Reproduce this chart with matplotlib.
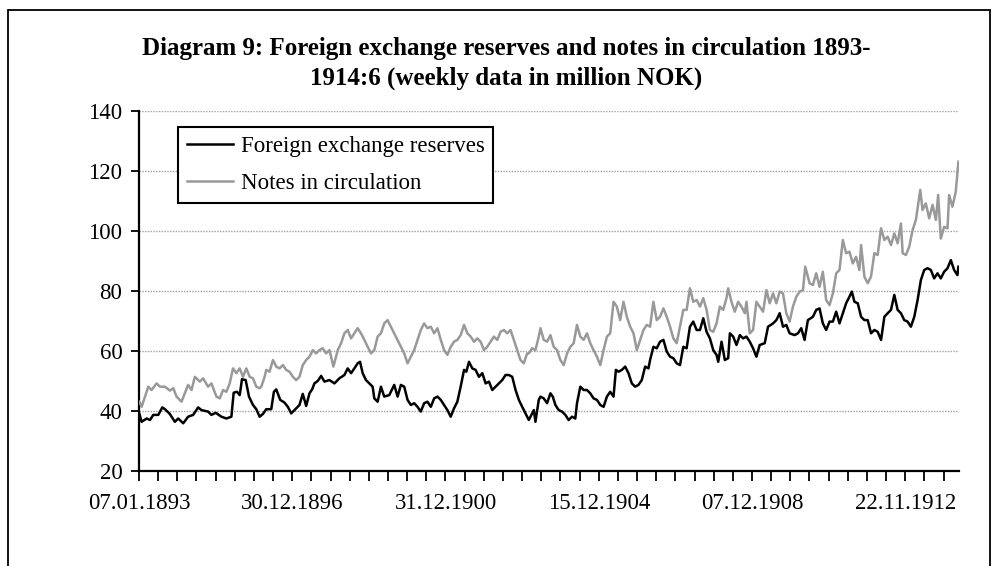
import matplotlib
matplotlib.use("Agg")
import matplotlib.pyplot as plt
from matplotlib.patches import Rectangle
from matplotlib.lines import Line2D

# ---- data (week index from 07.01.1893, million NOK) ----
reserves_week = [0, 3, 10, 14.4, 18.9, 25.7, 31.1, 34.7, 41.4, 48.2, 52.7, 59.5, 66.2, 73.0, 79.8,
                 84.3, 93.3, 97.8, 103.7, 111.3, 118.1, 124.9, 128.0, 132.5, 136.2, 139.3, 144.3,
                 148.8, 154.2, 158.7, 163.2, 167.7, 172.2, 179.0, 182.6, 185.8, 191.2, 197.0, 201.5,
                 206.1, 212.8, 217.3, 221.8, 226.4, 230.9, 234.5, 237.6, 242.1, 246.7, 251.2,
                 258.0, 264.8, 271.5, 278.3, 282.8, 287.3, 291.8, 296.3, 299.5, 303.1, 307.6, 312.1,
                 316.6, 318.9, 323.4, 327.9, 332.4, 339.2, 345.9, 350.5, 355.0, 359.5, 364.0, 368.5,
                 373.0, 377.5, 382.0, 386.5, 391.0, 395.6, 400.1, 404.6, 409.1, 413.6, 418.1, 422.6,
                 427.1, 431.6, 436.1, 440.7, 443.8, 447.4, 451.9, 456.4, 460.9, 465.5, 470.0, 474.5,
                 479.0, 483.5, 488.0, 492.5, 497.0, 501.5, 506.1, 510.6, 515.1, 519.6, 524.1, 528.6,
                 533.1, 535.4, 537.6, 542.1, 544.4, 548.9, 553.4, 557.9, 561.1, 564.7, 569.2, 573.7,
                 578.2, 582.7, 587.2, 591.7, 594.0, 598.5, 603.0, 607.5, 612.0, 616.5, 621.1, 625.6,
                 630.1, 634.6, 639.1, 643.6, 646.8, 650.4, 654.9, 659.4, 663.9, 668.4, 672.9, 677.4,
                 681.9, 686.5, 691.0, 693.2, 697.7, 702.2, 706.7, 711.3, 715.8, 720.3, 724.8, 729.3,
                 733.8, 738.3, 742.8, 747.3, 751.8, 756.4, 760.9, 765.4, 769.9, 774.4, 778.9, 783.4,
                 785.7, 790.2, 794.7, 799.2, 801.5, 806.0, 810.5, 815.0, 819.5, 824.0, 828.5, 833.0,
                 837.5, 842.0, 848.8, 853.3, 860.1, 864.6, 869.1, 873.6, 878.1, 882.6, 889.4, 893.9,
                 898.4, 902.9, 907.4, 914.2, 918.7, 923.2, 927.7, 932.2, 936.8, 941.3, 945.8, 950.3,
                 954.8, 959.3, 963.8, 967.0, 970.6, 975.1, 979.6, 984.1, 988.6, 993.1, 997.6, 1002.1,
                 1006.7, 1011.2, 1015.7, 1020.2, 1024.7, 1029.2, 1033.7, 1038.2, 1042.7, 1047.2,
                 1051.8, 1056.3, 1060.8, 1065.3, 1069.8, 1074.3, 1078.8, 1083.3, 1087.8, 1092.3,
                 1096.9, 1101.4, 1105.9, 1110.4, 1111.7]
reserves_value = [39.0, 36.3, 37.4, 36.9, 38.6, 38.6, 41.1, 40.5, 38.9, 36.3, 37.4, 35.8, 38.0, 38.6, 41.1,
                  40.2, 39.7, 38.6, 39.3, 38.0, 37.4, 38.0, 46.0, 46.3, 45.2, 50.5, 50.2,
                  44.7, 41.9, 40.5, 38.0, 38.9, 40.5, 40.5, 46.3, 47.1, 43.6, 42.7, 41.3,
                  39.1, 40.8, 41.9, 45.6, 41.6, 45.8, 47.1, 49.1, 49.9, 51.6, 49.7,
                  50.2, 49.1, 50.8, 51.9, 54.1, 52.5, 54.1, 55.8, 56.3, 52.5, 50.2, 49.1,
                  48.0, 44.1, 43.0, 48.0, 44.7, 45.2, 48.6, 44.7, 48.6, 48.0, 43.6, 41.9,
                  42.5, 41.3, 39.7, 42.5, 43.0, 41.3, 44.1, 44.7, 43.6, 41.9, 40.2, 38.0,
                  40.8, 43.0, 48.0, 53.6, 53.0, 56.3, 54.1, 53.6, 51.3, 52.5, 49.1, 49.7,
                  46.9, 48.0, 49.1, 50.2, 51.9, 51.9, 51.3, 46.9, 43.6, 41.3, 39.1, 36.9,
                  39.1, 40.2, 36.3, 43.6, 44.7, 44.1, 42.5, 45.8, 44.7, 41.9, 40.2, 39.7,
                  38.6, 36.9, 38.0, 37.4, 42.5, 48.0, 46.9, 46.9, 45.8, 44.1, 43.6, 41.9,
                  41.3, 44.7, 46.3, 44.7, 53.6, 53.0, 53.6, 54.7, 52.5, 49.1, 48.0, 48.6,
                  50.2, 54.7, 54.1, 56.9, 61.3, 60.8, 63.0, 63.6, 59.7, 58.0, 57.5, 55.8,
                  55.2, 61.3, 60.8, 68.0, 69.7, 66.9, 66.9, 70.8, 66.3, 64.1, 60.2, 58.6,
                  56.3, 63.0, 56.9, 57.5, 65.8, 64.7, 61.9, 65.2, 64.1, 64.7, 63.0, 60.8,
                  58.0, 61.9, 62.5, 68.0, 69.1, 70.2, 72.5, 68.0, 68.6, 65.8, 65.2, 65.8,
                  67.5, 63.6, 70.2, 71.3, 73.6, 74.1, 69.1, 66.9, 69.7, 69.7, 73.0, 69.1,
                  72.5, 75.8, 78.0, 79.7, 76.3, 75.8, 71.3, 70.2, 70.2, 65.8, 66.9, 66.3,
                  63.6, 71.3, 72.5, 73.6, 78.6, 73.6, 72.5, 70.2, 69.7, 68.0,
                  71.3, 76.9, 83.6, 86.9, 87.5, 86.9, 84.1, 85.8, 84.1, 86.3,
                  87.5, 90.2, 86.9, 85.2, 88.0]

notes_week = [0, 3.1, 7.6, 12.1, 16.6, 23.4, 27.9, 34.7, 41.4, 46.0, 50.5, 57.2, 61.7, 66.2, 70.8,
              75.3, 82.0, 86.5, 93.3, 97.8, 104.6, 109.1, 113.6, 118.1, 122.6, 127.1, 131.6, 136.2,
              140.7, 145.2, 149.7, 154.2, 158.7, 163.2, 165.5, 170.0, 172.2, 176.7, 181.3, 185.8,
              190.3, 194.8, 199.3, 203.8, 208.3, 212.8, 217.3, 221.8, 226.4, 230.9, 235.4, 239.9,
              244.4, 248.9, 253.4, 258.0, 263.4, 269.3, 273.8, 278.3, 282.8, 287.3, 291.8, 296.3,
              300.8, 305.4, 309.9, 314.4, 318.9, 323.4, 327.9, 332.4, 336.9, 341.4, 345.9, 350.5,
              355.0, 359.5, 364.0, 368.5, 373.0, 377.5, 382.0, 386.5, 391.0, 395.6, 400.1, 404.6,
              409.1, 413.6, 418.1, 422.6, 427.1, 431.6, 436.1, 440.7, 445.2, 449.7, 454.2, 458.7,
              463.2, 467.7, 472.2, 476.7, 481.2, 485.8, 490.3, 494.8, 499.3, 503.8, 508.3, 512.8,
              517.3, 521.8, 526.3, 528.6, 533.1, 537.6, 542.1, 544.4, 548.9, 553.4, 557.9, 562.4,
              566.9, 571.4, 576.0, 580.5, 585.0, 589.5, 594.0, 598.5, 603.0, 607.5, 612.0, 616.5,
              621.1, 625.6, 630.1, 634.6, 639.1, 643.6, 648.1, 652.6, 657.1, 661.6, 666.2, 670.7,
              675.2, 679.7, 684.2, 688.7, 693.2, 697.7, 702.2, 706.7, 711.3, 715.8, 720.3, 724.8,
              729.3, 733.8, 738.3, 742.8, 747.3, 751.8, 756.4, 760.9, 765.4, 769.9, 774.4, 778.9,
              783.4, 787.9, 792.4, 796.9, 799.2, 803.7, 808.2, 812.7, 817.2, 821.8, 824.0, 828.5,
              833.0, 837.5, 842.0, 846.6, 851.1, 855.6, 860.1, 864.6, 869.1, 873.6, 878.1, 882.6,
              887.1, 891.7, 896.2, 900.7, 903.8, 909.7, 914.2, 918.7, 923.2, 927.7, 932.2, 936.8,
              941.3, 945.8, 950.3, 954.8, 959.3, 963.8, 968.3, 972.8, 977.3, 979.6, 984.1, 988.6,
              993.1, 997.6, 1002.1, 1006.7, 1011.2, 1015.7, 1020.2, 1024.7, 1029.2, 1033.7, 1036.0,
              1040.5, 1045.0, 1049.5, 1054.0, 1059.9, 1063.0, 1067.5, 1072.0, 1076.6, 1081.1,
              1084.2, 1087.8, 1092.3, 1096.9, 1099.1, 1103.6, 1108.1, 1111.7]
notes_value = [43.0, 41.3, 44.7, 48.0, 46.9, 49.1, 48.0, 48.0, 46.7, 47.5, 44.7, 43.0, 45.8, 48.6, 46.9,
               51.3, 49.7, 50.8, 48.0, 49.1, 44.7, 44.1, 46.9, 46.3, 49.1, 54.1, 52.5, 54.1,
               51.3, 54.1, 51.3, 50.8, 48.0, 47.5, 48.0, 51.3, 53.6, 53.0, 56.9, 54.7,
               54.1, 55.2, 53.6, 53.0, 51.3, 50.2, 51.3, 55.2, 56.9, 58.0, 60.2, 59.1,
               60.2, 60.8, 59.1, 60.2, 54.7, 60.2, 62.5, 65.8, 66.9, 64.1, 65.8, 67.5,
               65.8, 63.6, 61.3, 59.1, 60.2, 64.7, 65.8, 69.1, 70.2, 68.0, 65.8, 63.6,
               61.3, 59.1, 55.8, 58.0, 60.2, 63.6, 66.9, 69.1, 67.5, 68.0, 65.8, 67.5,
               63.6, 60.2, 58.6, 61.3, 63.0, 63.6, 65.2, 68.6, 65.8, 64.7, 63.0, 64.1,
               63.0, 60.2, 61.3, 63.0, 64.7, 63.6, 66.3, 66.9, 65.8, 66.9, 63.6, 60.2,
               56.9, 55.8, 59.1, 59.1, 60.8, 60.2, 64.7, 67.5, 63.6, 63.0, 65.2, 61.3,
               60.2, 56.9, 55.2, 59.1, 61.3, 62.5, 68.6, 64.7, 63.6, 65.8, 62.5, 60.2,
               58.0, 55.2, 60.2, 64.7, 65.8, 76.3, 74.7, 70.2, 76.3, 71.3, 68.0, 65.8,
               60.2, 63.6, 66.9, 68.6, 68.0, 76.3, 70.2, 71.3, 74.1, 71.3, 68.0, 64.1,
               62.5, 68.0, 73.6, 73.6, 80.8, 76.3, 76.9, 74.7, 77.5, 73.6, 66.9, 66.3,
               69.1, 74.7, 73.6, 77.5, 80.8, 76.3, 73.0, 76.3, 74.7, 72.5, 76.3, 65.8,
               66.9, 76.3, 74.7, 73.0, 80.2, 75.8, 79.1, 75.8, 79.7, 79.1, 72.5, 69.7,
               74.7, 78.0, 79.7, 80.2, 88.0, 82.5, 81.9, 85.8, 81.3, 86.3, 76.9, 75.2,
               79.1, 85.8, 86.9, 96.9, 92.5, 93.0, 89.1, 91.3, 86.9, 95.2, 84.7, 82.5,
               84.7, 92.5, 91.9, 100.8, 96.9, 98.0, 95.2, 99.1, 95.8, 102.4, 92.5,
               91.9, 94.7, 100.2, 103.6, 113.6, 106.9, 109.1, 104.1, 108.6, 103.6,
               111.9, 97.4, 101.3, 100.8, 111.9, 108.0, 113.0, 123.0]

n_weeks = 1113
label_weeks = [0, 208, 416, 624, 832, 1040]
label_texts = ["07.01.1893", "30.12.1896", "31.12.1900", "15.12.1904", "07.12.1908", "22.11.1912"]
y_ticks = [20, 40, 60, 80, 100, 120, 140]

series_names = ["Foreign exchange reserves", "Notes in circulation"]
title_lines = ["Diagram 9: Foreign exchange reserves and notes in circulation 1893-",
               "1914:6 (weekly data in million NOK)"]

# ---- figure ----
W, H = 998, 566
fig = plt.figure(figsize=(W / 100, H / 100), dpi=100)
plt.rcParams["font.family"] = ["Liberation Serif", "DejaVu Serif"]

# outer frame
fig.patches.append(Rectangle((8 / W, -0.05), (990 - 8) / W, 1.05 - 10 / H,
                             transform=fig.transFigure, fill=False,
                             edgecolor="black", linewidth=1.3, zorder=0))

ax = fig.add_axes([139 / W, (H - 470.7) / H, 820 / W, 360 / H])
ax.plot(notes_week, notes_value, color="#999999", lw=1.8, zorder=3)
ax.plot(reserves_week, reserves_value, color="black", lw=1.8, zorder=4)

ax.set_xlim(-0.5, n_weeks - 0.5)
ax.set_ylim(20, 140)
ax.set_yticks(y_ticks)
ax.set_yticklabels([str(v) for v in y_ticks], fontsize=16.5)

# category-style x axis: major ticks every 26 weeks, labels every 208
ax.set_xticks([k - 0.5 for k in range(0, n_weeks + 1, 26)])
ax.set_xticklabels([])
ax.set_xticks(label_weeks, minor=True)
ax.set_xticklabels(label_texts, minor=True, fontsize=16.5)
ax.tick_params(axis="x", which="minor", length=0, pad=16)
ax.tick_params(axis="x", which="major", length=7, width=1.3, direction="out")
ax.tick_params(axis="y", length=6, width=1.3, direction="out", pad=6)

for v in y_ticks[1:]:
    ax.axhline(v, color="#a0a0a0", lw=1.0, ls=(0, (1, 1)), zorder=1)

for s in ["top", "right"]:
    ax.spines[s].set_visible(False)
for s in ["left", "bottom"]:
    ax.spines[s].set_linewidth(1.6)

handles = [Line2D([], [], color="black", lw=1.8), Line2D([], [], color="#999999", lw=1.8)]
leg = ax.legend(handles, series_names, loc="upper left",
                bbox_to_anchor=(178 / W, 1 - 127 / H), bbox_transform=fig.transFigure,
                borderaxespad=0, frameon=True, fancybox=False, edgecolor="black",
                fontsize=16.5, handlelength=2.0, handletextpad=0.35, labelspacing=0.7,
                borderpad=0.38)
leg.get_frame().set_linewidth(1.5)
leg.get_frame().set_alpha(None)
leg.get_frame().set_facecolor("white")

fig.text(506 / W, 1 - 55 / H, title_lines[0], ha="center", va="baseline", fontsize=18,
         fontweight="bold")
fig.text(506 / W, 1 - 85 / H, title_lines[1], ha="center", va="baseline", fontsize=18,
         fontweight="bold")

fig.savefig("out.png", dpi=100)
